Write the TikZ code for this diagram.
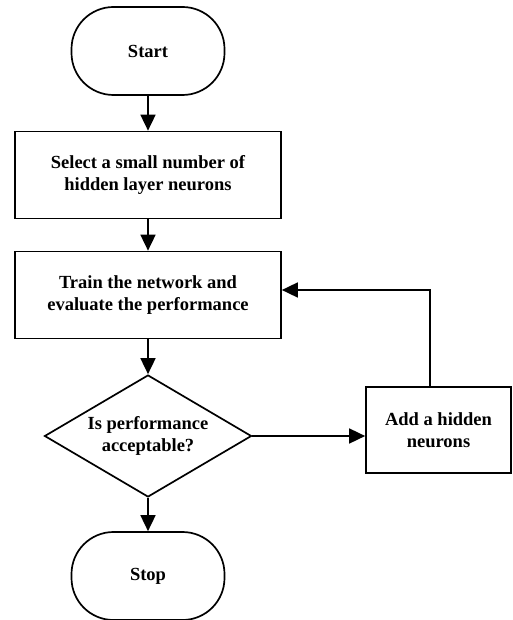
\documentclass[tikz,border=0pt]{standalone}
\usepackage{fontspec}
\setmainfont{Liberation Serif}
\usetikzlibrary{shapes.geometric,arrows.meta}
\begin{document}
\begin{tikzpicture}[x=1pt,y=-1pt,
  every node/.style={font=\bfseries\fontsize{18.5}{22}\selectfont, align=center, inner sep=0pt, line width=1.7pt},
  terminal/.style={draw, rounded corners=42pt, minimum width=153pt, minimum height=88pt},
  procbox/.style={draw, minimum width=266pt, minimum height=87pt},
  addbox/.style={draw, minimum width=145pt, minimum height=86pt},
  decision/.style={draw, diamond, aspect=1.7, minimum width=207pt, minimum height=122pt},
  flow/.style={line width=1.7pt, -{Triangle[length=16pt,width=15pt]}}
]
\useasboundingbox (0,0) rectangle (512,620);
\node[terminal] (start) at (148,51) {Start};
\node[procbox] (select) at (148,175) {Select a small number of\\hidden layer neurons};
\node[procbox] (train) at (148,295) {Train the network and\\evaluate the performance};
\node[decision] (dec) at (148,436) {Is performance\\acceptable?};
\node[terminal] (stop) at (148,576) {Stop};
\node[addbox] (add) at (438.5,430) {Add a hidden\\neurons};
\coordinate (c1) at (430,290);
\draw[flow] (start) -- (select);
\draw[flow] (select) -- (train);
\draw[flow] (train) -- (dec);
\draw[flow] (dec) -- (stop);
\draw[flow] (dec.east) -- (dec.east -| add.west);
\draw[flow] (add.north -| c1) -- (c1) -- (c1 -| train.east);
\end{tikzpicture}
\end{document}
